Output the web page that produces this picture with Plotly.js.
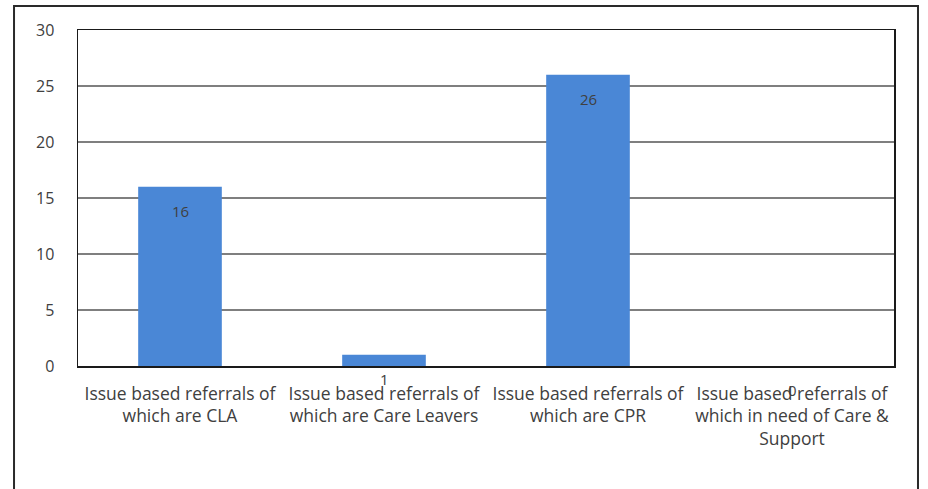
<!DOCTYPE html>
<html>
<head>
<meta charset="utf-8">
<script src="https://cdn.plot.ly/plotly-3.0.1.min.js"></script>
<style>
  html, body { margin: 0; padding: 0; background: #fff; }
  #chart { width: 928px; height: 489px; }
</style>
</head>
<body>
<div id="chart"></div>
<script>
// Referral categories (wrapped as they appear under the axis)
const categories = [
  "Issue based referrals of<br>which are CLA",
  "Issue based referrals of<br>which are Care Leavers",
  "Issue based referrals of<br>which are CPR",
  "Issue based referrals of<br>which in need of Care &<br>Support"
];
// Number of referrals per category
const referrals = [16, 1, 26, 0];
// Value axis ticks
const yTicks = [0, 5, 10, 15, 20, 25, 30];

const barColor = "#4a87d6";
const textColor = "#404040";
const fontFamily = "'Open Sans', Lato, sans-serif";

const trace = {
  type: "bar",
  x: categories,
  y: referrals,
  marker: { color: barColor, line: { width: 0 } },
  hoverinfo: "x+y"
};

// Value labels sit just inside the top of each bar
const labels = categories.map((c, i) => ({
  x: c,
  y: referrals[i],
  xref: "x",
  yref: "y",
  text: String(referrals[i]),
  showarrow: false,
  yshift: -24,
  font: { family: fontFamily, size: 15, color: textColor }
}));

const layout = {
  width: 928,
  height: 489,
  margin: { l: 78, r: 34, t: 30, b: 123 },
  paper_bgcolor: "#ffffff",
  plot_bgcolor: "#ffffff",
  showlegend: false,
  bargap: 0.59,
  font: { family: fontFamily, size: 15, color: textColor },
  xaxis: {
    type: "category",
    showline: true,
    mirror: true,
    linecolor: "#1a1a1a",
    linewidth: 1.5,
    ticks: "",
    showgrid: false,
    ticklabelstandoff: 11,
    tickfont: { family: fontFamily, size: 17.5, color: textColor }
  },
  yaxis: {
    range: [0, 30],
    tickvals: yTicks,
    showline: true,
    mirror: true,
    linecolor: "#1a1a1a",
    linewidth: 1.5,
    showgrid: true,
    gridcolor: "#7f7f7f",
    gridwidth: 2,
    zeroline: false,
    ticks: "",
    ticklabelstandoff: 19,
    tickfont: { family: fontFamily, size: 16, color: textColor }
  },
  annotations: labels,
  shapes: [
    // outer chart frame
    {
      type: "rect",
      xref: "paper", yref: "paper",
      x0: -0.0784, x1: 1.0294,
      y0: -0.38, y1: 1.0714,
      line: { color: "#2a2a2a", width: 2 },
      fillcolor: "rgba(0,0,0,0)",
      layer: "below"
    }
  ]
};

Plotly.newPlot("chart", [trace], layout, { displayModeBar: false, staticPlot: true });
</script>
</body>
</html>
